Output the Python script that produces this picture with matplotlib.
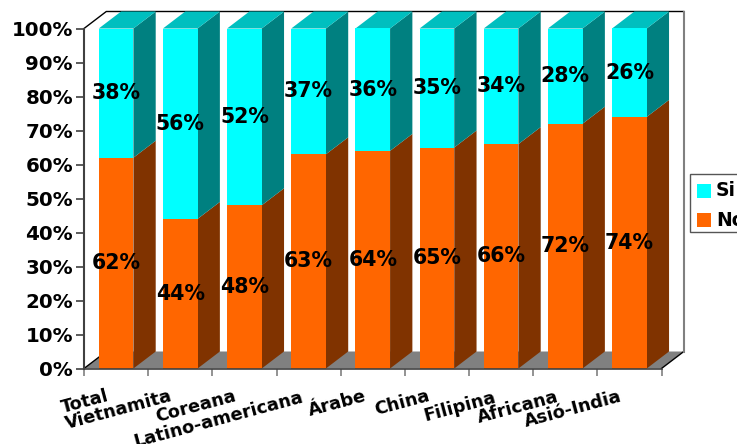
import matplotlib
matplotlib.use("Agg")
import matplotlib.pyplot as plt
from matplotlib.patches import Polygon, Rectangle

categories = ["Total", "Vietnamita", "Coreana", "Latino-americana", "Árabe",
              "China", "Filipina", "Africana", "Asió-India"]
si_values = [38, 56, 52, 37, 36, 35, 34, 28, 26]
no_values = [62, 44, 48, 63, 64, 65, 66, 72, 74]
y_ticks = [0, 10, 20, 30, 40, 50, 60, 70, 80, 90, 100]

W, H = 737, 444
L, R, B, T = 84, 661.5, 368.5, 28.5
fig = plt.figure(figsize=(W / 100, H / 100), dpi=100, facecolor="white")
ax = fig.add_axes([L / W, 1 - B / H, (R - L) / W, (B - T) / H])
ax.set_xlim(-0.5, 8.5)
ax.set_ylim(0, 100)
ax.patch.set_visible(False)
for s in ax.spines.values():
    s.set_visible(False)

DX = 22.3 / ((R - L) / 9)
DY = 17 / ((B - T) / 100)
BAR_W = 0.54
FONT = "DejaVu Sans"


def poly(pts, fc, ec="none", lw=0, z=1):
    ax.add_patch(Polygon(pts, closed=True, facecolor=fc, edgecolor=ec,
                         linewidth=lw, zorder=z, clip_on=False))


# walls and floor
x0, x1 = -0.5, 8.5
poly([(x0, 0), (x0 + DX, DY), (x1 + DX, DY), (x1, 0)], "#808080", z=1)
ax.plot([x0, x0 + DX], [0, DY], color="black", lw=1, zorder=1.5, clip_on=False)
ax.plot([x1, x1 + DX], [0, DY], color="black", lw=1, zorder=1.5, clip_on=False)
ax.plot([x0, x0 + DX, x1 + DX], [100, 100 + DY, 100 + DY],
        color="black", lw=1, zorder=1.5, clip_on=False)
ax.plot([x1 + DX, x1 + DX], [100 + DY, DY], color="#808080", lw=1.5,
        zorder=1.6, clip_on=False)

# stacked 3-D columns
for i, (si, no) in enumerate(zip(si_values, no_values)):
    xl, xr = i - BAR_W / 2, i + BAR_W / 2
    z = 2 + i * 0.1
    ax.bar(i, no, BAR_W, color="#FF6600", zorder=z + 0.05, clip_on=False)
    ax.bar(i, si, BAR_W, bottom=no, color="#00FFFF", zorder=z + 0.05, clip_on=False)
    poly([(xr, 0), (xr + DX, DY), (xr + DX, no + DY), (xr, no)], "#803300", z=z)
    poly([(xr, no), (xr + DX, no + DY), (xr + DX, no + si + DY), (xr, no + si)],
         "#008080", z=z)
    poly([(xl, no + si), (xr, no + si), (xr + DX, no + si + DY), (xl + DX, no + si + DY)],
         "#00BFBF", z=z)
    ax.text(i, no / 2, f"{no}%", ha="center", va="center", fontsize=14.8,
            fontweight="bold", family=FONT, color="black", zorder=10, clip_on=False)
    ax.text(i, no + si / 2, f"{si}%", ha="center", va="center", fontsize=14.8,
            fontweight="bold", family=FONT, color="black", zorder=10, clip_on=False)

# axis lines and ticks
ax.plot([x0, x0], [0, 100], color="#404040", lw=1.5, zorder=5, clip_on=False)
ax.plot([x0, x1], [0, 0], color="#404040", lw=1.2, zorder=5, clip_on=False)
ax.set_yticks(y_ticks)
ax.set_yticklabels([f"{v}%" for v in y_ticks], fontsize=14.3, fontweight="bold",
                   family=FONT, color="black")
ax.tick_params(axis="y", length=6, width=1.2, color="#404040", pad=2)
ax.set_xticks([k - 0.5 for k in range(10)])
ax.set_xticklabels([])
ax.tick_params(axis="x", length=5, width=1.2, color="#808080")

# rotated category labels: offsets in points from each column's base
label_dx = [-7.3, -8, -8, -6, -6.5, -7.5, -6, -7, -7.5]
label_dy = [-13.5, -13, -13.5, -14.5, -13.5, -13.5, -14.5, -14, -14]
for i, c in enumerate(categories):
    ax.annotate(c, xy=(i, 0), xytext=(label_dx[i], label_dy[i]),
                textcoords="offset points", annotation_clip=False,
                ha="right", va="top", rotation=15, rotation_mode="anchor",
                fontsize=12.8, fontweight="bold", family=FONT, color="black")

# legend (runs past the right edge, as in the reference)
fig_tr = fig.transFigure
def px(x, y):
    return x / W, 1 - y / H
fig.add_artist(Rectangle(px(689.5, 232), 60 / W, 58 / H, transform=fig_tr,
                         facecolor="white", edgecolor="#555555", lw=1, clip_on=False))
for y, col, lab in [(191, "#00FFFF", "Si"), (220, "#FF6600", "No")]:
    fig.add_artist(Rectangle(px(697, y + 7), 14 / W, 14 / H, transform=fig_tr,
                             facecolor=col, edgecolor="none"))
    fig.text(*px(716, y), lab, va="center", ha="left", fontsize=13.5,
             fontweight="bold", family=FONT, color="black")

fig.savefig("out.png", dpi=100)
